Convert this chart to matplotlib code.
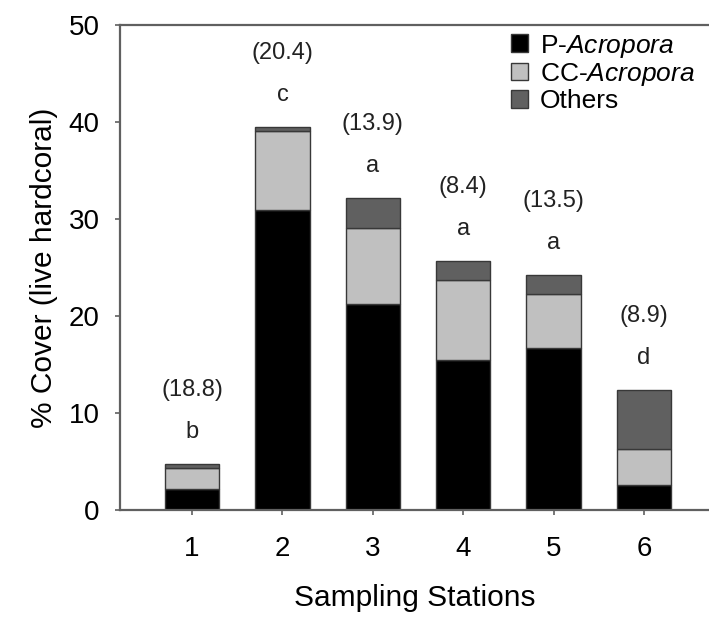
import matplotlib.pyplot as plt
import numpy as np

plt.rcParams['font.family'] = ['Liberation Sans', 'DejaVu Sans']
plt.rcParams['mathtext.fontset'] = 'custom'
plt.rcParams['mathtext.it'] = 'Liberation Sans:italic'
plt.rcParams['mathtext.rm'] = 'Liberation Sans'

# dados
estacoes = ['1', '2', '3', '4', '5', '6']
p_acropora = [2.2, 31.0, 21.3, 15.5, 16.7, 2.6]
cc_acropora = [2.2, 8.1, 7.8, 8.2, 5.6, 3.7]
outros = [0.4, 0.4, 3.1, 2.0, 2.0, 6.1]
letras = ['b', 'c', 'a', 'a', 'a', 'd']
valores_par = ['(18.8)', '(20.4)', '(13.9)', '(8.4)', '(13.5)', '(8.9)']

x = np.arange(1, len(estacoes) + 1)
base2 = np.array(p_acropora)
base3 = base2 + np.array(cc_acropora)
total = base3 + np.array(outros)

fig = plt.figure(figsize=(7.09, 6.17), dpi=100)
ax = fig.add_axes([0.169, 0.173, 0.831, 0.786])

cor_borda = '#383838'
largura = 0.6
ax.bar(x, p_acropora, largura, color='black', edgecolor=cor_borda, linewidth=1, label='P-$\\it{Acropora}$')
ax.bar(x, cc_acropora, largura, bottom=base2, color='#c0c0c0', edgecolor=cor_borda, linewidth=1, label='CC-$\\it{Acropora}$')
ax.bar(x, outros, largura, bottom=base3, color='#606060', edgecolor=cor_borda, linewidth=1, label='Others')

# letras e valores acima das barras
for i in range(len(x)):
    ax.text(x[i], total[i] + 3.3, letras[i], ha='center', va='center', fontsize=17, color='#222222')
    ax.text(x[i], total[i] + 7.6, valores_par[i], ha='center', va='center', fontsize=17, color='#222222')

ax.set_xlim(0.2, 6.72)
ax.set_ylim(0, 50)
ax.set_yticks([0, 10, 20, 30, 40, 50])
ax.set_xticks(x)
ax.set_xticklabels(estacoes)
ax.tick_params(axis='both', labelsize=20, color='#606060', length=3.5, width=1.2, direction='out')
ax.tick_params(axis='y', pad=11)
ax.tick_params(axis='x', pad=15)

for lado in ['left', 'top', 'bottom']:
    ax.spines[lado].set_color('#606060')
    ax.spines[lado].set_linewidth(1.6)
ax.spines['right'].set_visible(False)

ax.set_xlabel('Sampling Stations', fontsize=21.5, labelpad=16)
ax.set_ylabel('% Cover (live hardcoral)', fontsize=21.5, labelpad=8)

leg = ax.legend(loc='upper left', bbox_to_anchor=(0.664, 0.985), frameon=False, fontsize=19,
                handlelength=0.65, handleheight=0.65, handletextpad=0.45, labelspacing=0.05, borderaxespad=0,
                borderpad=0)

fig.savefig('out.png', dpi=100)
